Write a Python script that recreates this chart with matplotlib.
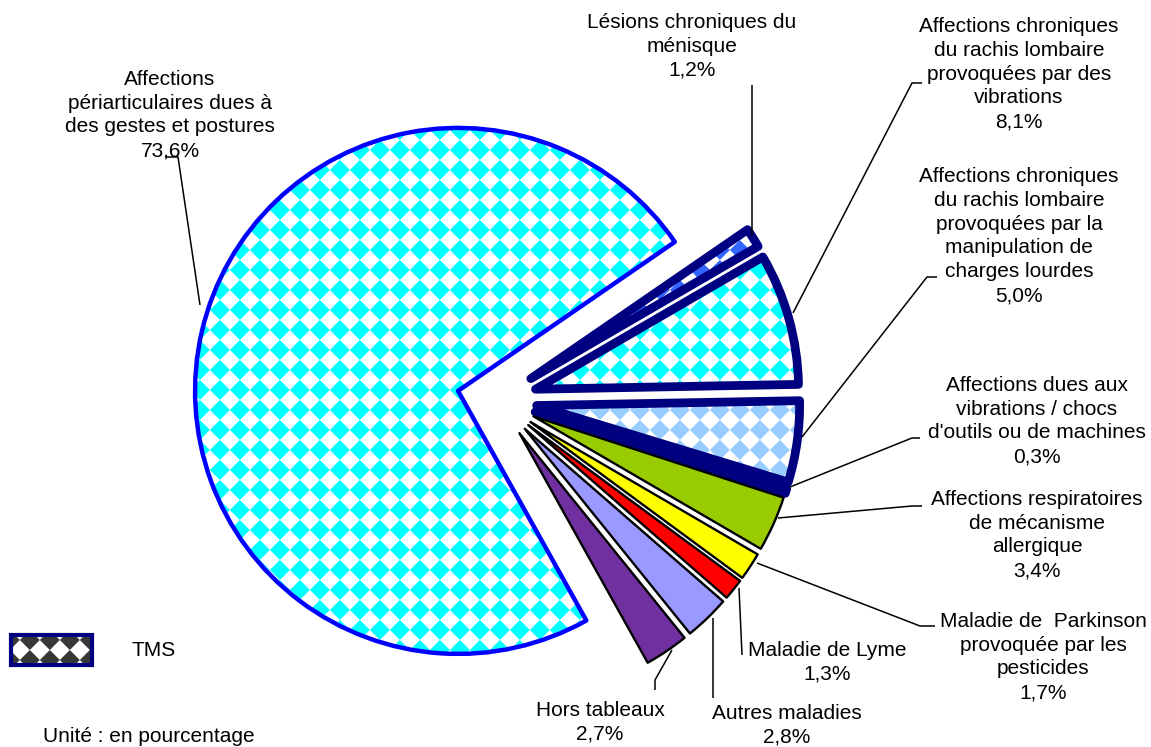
import numpy as np
import matplotlib
matplotlib.use("Agg")
import matplotlib.pyplot as plt
from matplotlib.colors import to_rgb
from matplotlib.patches import Rectangle

plt.rcParams['font.family'] = ['Liberation Sans', 'DejaVu Sans']

# ---------------- data ----------------
categories = [
    "Lésions chroniques du\nménisque",
    "Affections chroniques\ndu rachis lombaire\nprovoquées par des\nvibrations",
    "Affections chroniques\ndu rachis lombaire\nprovoquées par la\nmanipulation de\ncharges lourdes",
    "Affections dues aux\nvibrations / chocs\nd'outils ou de machines",
    "Affections respiratoires\nde mécanisme\nallergique",
    "Maladie de  Parkinson\nprovoquée par les\npesticides",
    "Maladie de Lyme",
    "Autres maladies",
    "Hors tableaux",
    "Affections\npériarticulaires dues à\ndes gestes et postures",
]
values = [1.2, 8.1, 5.0, 0.3, 3.4, 1.7, 1.3, 2.8, 2.7, 73.6]
legend_label = "TMS"
unit_note = "Unité : en pourcentage"

# ---------------- styles ----------------
W, H = 1151, 747
face_colors = ['#3366FF', '#00FFFF', '#99CCFF', '#000080', '#99CC00',
               '#FFFF00', '#FF0000', '#9999FF', '#7030A0', '#00FFFF']
patterned = [True, True, True, False, False, False, False, False, False, True]
edge_colors = ['#000080', '#000080', '#000080', '#000080', 'black',
               'black', 'black', 'black', 'black', '#0000FF']
edge_widths = [6.3, 6.3, 6.3, 6.3, 1.7, 1.7, 1.7, 1.7, 1.7, 3.2]
center = (497, 400)
radius = 263
explode = [40] * len(values)   # absolute offset (data units = pixels)

label_pos = [(692, 46), (1019, 74), (1019, 236), (1037, 421), (1037, 535),
             (1043, 657), (827, 662), (787, 725), (600, 722), (170, 115)]
leaders = [
    [(752, 85), (752, 236)],
    [(922, 83), (912, 83), (793, 313)],
    [(937, 277), (927, 277), (802, 437)],
    [(920, 438), (912, 438), (790, 487)],
    [(922, 506), (912, 506), (778, 518)],
    [(935, 626), (920, 626), (757, 563)],
    [(742, 655), (739, 588)],
    [(713, 698), (713, 618)],
    [(655, 690), (655, 680), (672, 650)],
    [(165, 157), (178, 157), (200, 305)],
]

fig = plt.figure(figsize=(W / 100, H / 100), dpi=100)
ax = fig.add_axes([0, 0, 1, 1])

# y axis inverted -> visual clockwise = data counter-clockwise
wedges, _ = ax.pie(values, explode=explode, startangle=-34.5, counterclock=True,
                   center=center, radius=radius, colors=face_colors,
                   frame=True)

# checker (45° rotated) pattern
ss = 3
yy, xx = np.mgrid[0:H * ss, 0:W * ss]
xx = (xx + 0.5) / ss
yy = (yy + 0.5) / ss
period = 20.0
chk = ((np.floor((xx + yy) / period) + np.floor((xx - yy) / period)) % 2)
mask = chk.reshape(H, ss, W, ss).mean(axis=(1, 3))


def pattern_img(color, bg='white'):
    c = np.array(to_rgb(color))
    b = np.array(to_rgb(bg))
    img = np.ones((H, W, 4))
    img[..., :3] = b * (1 - mask[..., None]) + c * mask[..., None]
    return img


for w, fc, pat, ec, lw in zip(wedges, face_colors, patterned, edge_colors, edge_widths):
    w.set_edgecolor(ec)
    w.set_linewidth(lw)
    w.set_joinstyle('round')
    w.set_zorder(2)
    if pat:
        im = ax.imshow(pattern_img(fc), extent=(0, W, H, 0), interpolation='nearest',
                       zorder=1.5)
        im.set_clip_path(w)
        w.set_facecolor('none')

# labels
for cat, v, (x, y) in zip(categories, values, label_pos):
    txt = cat + "\n" + f"{v:.1f}%".replace('.', ',')
    ax.text(x, y, txt, ha='center', va='center', fontsize=15, linespacing=1.33,
            color='black', zorder=5)

for pts in leaders:
    xs, ys = zip(*pts)
    ax.plot(xs, ys, color='black', lw=1.1, zorder=4, solid_capstyle='butt')

# legend
rect_pat = Rectangle((11, 635), 81, 30, facecolor='none', edgecolor='#000080', lw=3, zorder=3)
ax.add_patch(rect_pat)
im = ax.imshow(pattern_img('white', bg='#383838'), extent=(0, W, H, 0),
               interpolation='nearest', zorder=2.5)
im.set_clip_path(rect_pat)
ax.text(132, 650, legend_label, ha='left', va='center', fontsize=15)
ax.text(43, 736, unit_note, ha='left', va='center', fontsize=15)

ax.set_xlim(0, W)
ax.set_ylim(H, 0)
ax.set_aspect('equal')
ax.axis('off')

fig.savefig('out.png', dpi=100)
